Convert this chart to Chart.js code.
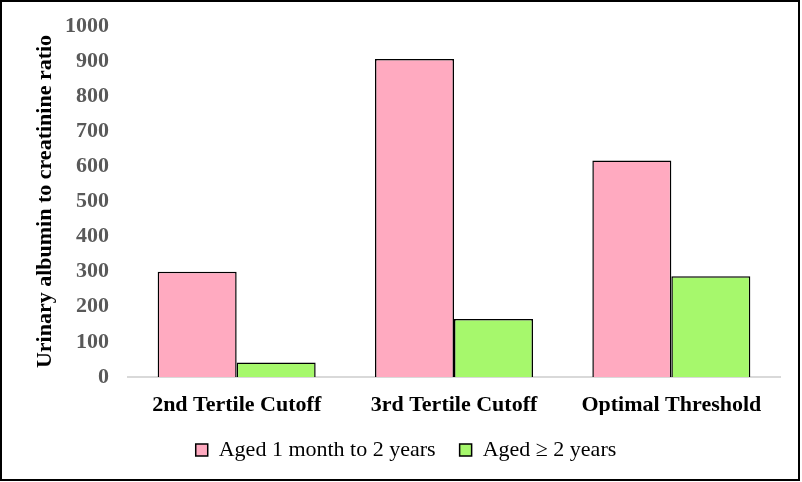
<!DOCTYPE html>
<html>
<head>
<meta charset="utf-8">
<script src="https://cdn.jsdelivr.net/npm/chart.js@4"></script>
<style>
html,body{margin:0;padding:0;background:#fff;}
#wrap{position:relative;width:802px;height:482px;}
</style>
</head>
<body>
<div id="wrap"><canvas id="c" width="802" height="482"></canvas></div>
<script>
const categories = ["2nd Tertile Cutoff", "3rd Tertile Cutoff", "Optimal Threshold"];
const seriesNames = ["Aged 1 month to 2 years", "Aged \u2265 2 years"];
const youngValues = [300, 906, 617];
const olderValues = [41, 165, 287];
const yTicks = [0, 100, 200, 300, 400, 500, 600, 700, 800, 900, 1000];
const yTitle = "Urinary albumin to creatinine ratio";

const frame = {
  id: 'frame',
  afterDraw(chart) {
    const ctx = chart.ctx;
    ctx.save();
    ctx.strokeStyle = '#000';
    ctx.lineWidth = 2;
    ctx.strokeRect(1, 1, 798, 479);
    ctx.restore();
  }
};

const serif = "'Liberation Serif', 'Times New Roman', serif";

new Chart(document.getElementById('c'), {
  type: 'bar',
  data: {
    labels: categories,
    datasets: [
      { label: seriesNames[0], data: youngValues, backgroundColor: '#FFAAC0', borderColor: '#000', borderWidth: 1.5, categoryPercentage: 0.727, barPercentage: 1.0 },
      { label: seriesNames[1], data: olderValues, backgroundColor: '#A6F86C', borderColor: '#000', borderWidth: 1.5, categoryPercentage: 0.727, barPercentage: 1.0 }
    ]
  },
  options: {
    responsive: false,
    animation: false,
    devicePixelRatio: 1,
    layout: { padding: { left: 32, right: 22, top: 26, bottom: 11 } },
    plugins: {
      tooltip: { enabled: false },
      legend: {
        position: 'bottom',
        labels: {
          font: { family: serif, size: 22 },
          color: '#000',
          boxWidth: 12,
          boxHeight: 12,
          padding: 24
        }
      }
    },
    scales: {
      x: {
        afterFit: s => { s.height = 38; s.paddingLeft = 0; s.paddingRight = 0; },
        grid: { display: false, drawTicks: false },
        border: { display: true, color: '#D9D9D9', width: 2 },
        ticks: { font: { family: serif, size: 22, weight: 'bold' }, color: '#000', padding: 15, maxRotation: 0 }
      },
      y: {
        min: 0, max: 1000,
        afterBuildTicks: s => { s.ticks = yTicks.map(v => ({ value: v })); },
        afterFit: s => { s.width = 96; s.paddingTop = 0; s.paddingBottom = 0; },
        grid: { display: false, drawTicks: false },
        border: { display: false },
        ticks: { font: { family: serif, size: 22, weight: 'bold' }, color: '#595959', padding: 19, callback: v => String(v) },
        title: { display: true, text: yTitle, font: { family: serif, size: 22, weight: 'bold' }, color: '#000', padding: { top: 0, bottom: 0 } }
      }
    }
  },
  plugins: [frame]
});
</script>
</body>
</html>
